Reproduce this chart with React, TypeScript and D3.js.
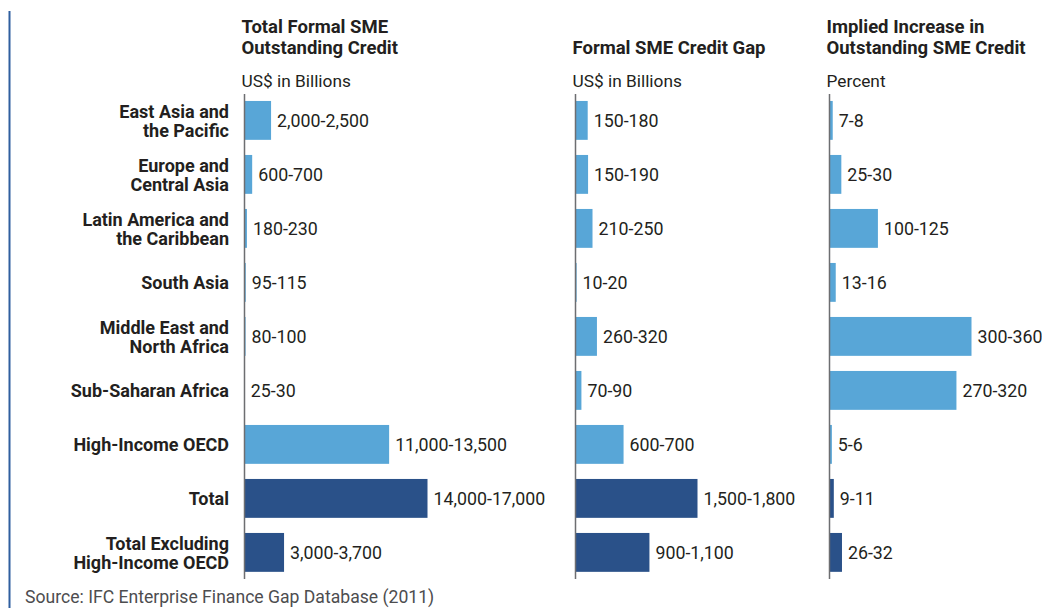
import React, { useRef, useEffect } from "react";
import * as d3 from "d3";

const categories = [
  ["East Asia and", "the Pacific"],
  ["Europe and", "Central Asia"],
  ["Latin America and", "the Caribbean"],
  ["South Asia"],
  ["Middle East and", "North Africa"],
  ["Sub-Saharan Africa"],
  ["High-Income OECD"],
  ["Total"],
  ["Total Excluding", "High-Income OECD"],
];
const isTotal = [false, false, false, false, false, false, false, true, true];

const creditLow = [2000, 600, 180, 95, 80, 25, 11000, 14000, 3000];
const creditHigh = [2500, 700, 230, 115, 100, 30, 13500, 17000, 3700];
const gapLow = [150, 150, 210, 10, 260, 70, 600, 1500, 900];
const gapHigh = [180, 190, 250, 20, 320, 90, 700, 1800, 1100];
const increaseLow = [7, 25, 100, 13, 300, 270, 5, 9, 26];
const increaseHigh = [8, 30, 125, 16, 360, 320, 6, 11, 32];

const panelTitles = [
  ["Total Formal SME", "Outstanding Credit"],
  ["Formal SME Credit Gap"],
  ["Implied Increase in", "Outstanding SME Credit"],
];
const panelUnits = ["US$ in Billions", "US$ in Billions", "Percent"];
const source = "Source: IFC Enterprise Finance Gap Database (2011)";

const LIGHT = "#58a6d7";
const DARK = "#2a5189";
const TEXT = "#231f20";
const FONT = "Roboto, 'Open Sans', sans-serif";

const App = () => {
  const svgRef = useRef<SVGSVGElement>(null);

  useEffect(() => {
    const svg = d3.select(svgRef.current);
    svg.selectAll("*").remove();

    const rowIdx = categories.map((_, i) => String(i));
    const yScale = d3
      .scaleBand()
      .domain(rowIdx)
      .range([93.4, 579.4])
      .paddingInner(0.28)
      .paddingOuter(0.14);

    // left frame rule
    svg
      .append("line")
      .attr("x1", 9.5)
      .attr("x2", 9.5)
      .attr("y1", 11)
      .attr("y2", 608)
      .attr("stroke", "#2f5f9f")
      .attr("stroke-width", 2);

    // category labels
    categories.forEach((lines, i) => {
      const cy = yScale(String(i))! + yScale.bandwidth() / 2;
      const t = svg
        .append("text")
        .attr("x", 229)
        .attr("text-anchor", "end")
        .attr("font-family", FONT)
        .attr("font-weight", "bold")
        .attr("font-size", 18)
        .attr("fill", TEXT);
      if (lines.length === 1) {
        t.attr("y", cy + 6.5).text(lines[0]);
      } else {
        t.append("tspan").attr("x", 229).attr("y", cy - 2).text(lines[0]);
        t.append("tspan").attr("x", 229).attr("y", cy + 17).text(lines[1]);
      }
    });

    const panels = [
      { x0: 244.5, low: creditLow, high: creditHigh, width: 183 },
      { x0: 575.5, low: gapLow, high: gapHigh, width: 122 },
      { x0: 829.5, low: increaseLow, high: increaseHigh, width: 142 },
    ];
    const fmt = d3.format(",");

    panels.forEach((p, pi) => {
      const mids = p.low.map((l, i) => (l + p.high[i]) / 2);
      const xScale = d3
        .scaleLinear()
        .domain([0, d3.max(mids)!])
        .range([p.x0, p.x0 + p.width]);

      const g = svg.append("g");

      // titles
      const titles = panelTitles[pi];
      const titleX = p.x0 - 3;
      titles.forEach((line, li) => {
        g.append("text")
          .attr("x", titleX)
          .attr("y", 54 - (titles.length - 1 - li) * 21)
          .attr("font-family", FONT)
          .attr("font-weight", "bold")
          .attr("font-size", 18.5)
          .attr("fill", TEXT)
          .text(line);
      });
      g.append("text")
        .attr("x", titleX)
        .attr("y", 87)
        .attr("font-family", FONT)
        .attr("font-size", 17.3)
        .attr("fill", TEXT)
        .text(panelUnits[pi]);

      // bars
      g.selectAll("rect")
        .data(mids)
        .join("rect")
        .attr("x", p.x0)
        .attr("y", (_, i) => yScale(String(i))!)
        .attr("width", (d) => xScale(d) - p.x0)
        .attr("height", yScale.bandwidth())
        .attr("fill", (_, i) => (isTotal[i] ? DARK : LIGHT));

      // value labels
      g.selectAll("text.val")
        .data(mids)
        .join("text")
        .attr("class", "val")
        .attr("x", (d) => Math.max(xScale(d), p.x0) + 6)
        .attr("y", (_, i) => yScale(String(i))! + yScale.bandwidth() / 2 + 6.5)
        .attr("font-family", FONT)
        .attr("font-size", 17.8)
        .attr("fill", TEXT)
        .text((_, i) => `${fmt(p.low[i])}-${fmt(p.high[i])}`);

      // axis line
      g.append("line")
        .attr("x1", p.x0)
        .attr("x2", p.x0)
        .attr("y1", 94)
        .attr("y2", 579)
        .attr("stroke", "#6d6e71")
        .attr("stroke-width", 1.5);
    });

    svg
      .append("text")
      .attr("x", 25)
      .attr("y", 603)
      .attr("font-family", FONT)
      .attr("font-size", 17.6)
      .attr("fill", "#4d4d4f")
      .text(source);
  }, []);

  return (
    <div>
      <style>{`body{margin:0;}`}</style>
      <svg ref={svgRef} width={1042} height={608} style={{ display: "block", background: "#fff" }} />
    </div>
  );
};

export default App;
